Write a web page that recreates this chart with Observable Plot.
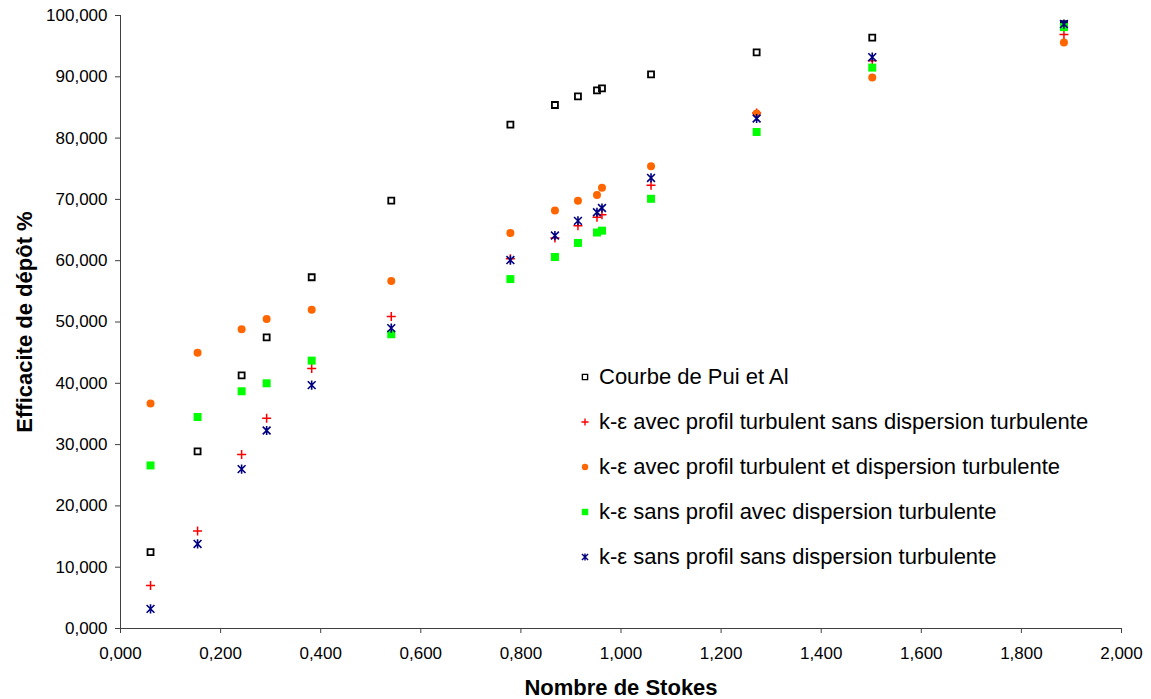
<!DOCTYPE html>
<html>
<head>
<meta charset="utf-8">
<script src="https://cdn.jsdelivr.net/npm/d3@7"></script>
<script src="https://cdn.jsdelivr.net/npm/@observablehq/plot@0.6"></script>
<style>
  body { margin: 0; background: #fff; font-family: "Liberation Sans", Arial, sans-serif; }
  #wrap { position: relative; width: 1151px; height: 699px; }
  .row { position: absolute; display: flex; align-items: center; height: 30px; font-size: 22px; color: #000; white-space: nowrap; font-family: "Liberation Sans", Arial, sans-serif; }
  .row svg { flex: none; margin-right: 7px; }
</style>
</head>
<body>
<div id="wrap"></div>
<script>
// ---- Data ----
const stokes = [0.060, 0.154, 0.242, 0.292, 0.382, 0.541, 0.779, 0.868, 0.914, 0.952, 0.962, 1.060, 1.271, 1.502, 1.885];
const puiEtAl = [12.45, 28.9, 41.3, 47.5, 57.3, 69.8, 82.2, 85.4, 86.8, 87.8, 88.1, 90.4, 94.0, 96.4, 98.6];
const keProfilSansDisp = [7.0, 15.9, 28.4, 34.3, 42.4, 50.9, 60.3, 63.7, 65.7, 67.1, 67.5, 72.3, 84.1, 92.6, 96.9];
const keProfilAvecDisp = [36.7, 45.0, 48.8, 50.5, 52.0, 56.7, 64.5, 68.2, 69.8, 70.7, 71.9, 75.4, 84.0, 89.9, 95.6];
const keSansProfilAvecDisp = [26.6, 34.5, 38.7, 40.0, 43.7, 48.0, 57.0, 60.6, 62.9, 64.6, 64.9, 70.1, 81.0, 91.5, 98.1];
const keSansProfilSansDisp = [3.2, 13.8, 26.0, 32.3, 39.7, 49.0, 60.1, 64.1, 66.5, 67.9, 68.6, 73.5, 83.2, 93.2, 98.6];

const seriesNames = [
  "Courbe de Pui et Al",
  "k-ε avec profil turbulent sans dispersion turbulente",
  "k-ε avec profil turbulent et dispersion turbulente",
  "k-ε sans profil avec dispersion turbulente",
  "k-ε sans profil sans dispersion turbulente"
];
const xTicks = [0, 0.2, 0.4, 0.6, 0.8, 1.0, 1.2, 1.4, 1.6, 1.8, 2.0];
const yTicks = [0, 10, 20, 30, 40, 50, 60, 70, 80, 90, 100];
const xTitle = "Nombre de Stokes";
const yTitle = "Efficacite de dépôt %";

// ---- Symbols ----
const rad = size => Math.sqrt(size / Math.PI);
const squareSym = { draw(ctx, size) { const r = rad(size); ctx.moveTo(-r, -r); ctx.lineTo(r, -r); ctx.lineTo(r, r); ctx.lineTo(-r, r); ctx.closePath(); } };
const plusSym = { draw(ctx, size) { const r = rad(size); ctx.moveTo(-r, 0); ctx.lineTo(r, 0); ctx.moveTo(0, -r); ctx.lineTo(0, r); } };
const circleSym = { draw(ctx, size) { const r = rad(size); ctx.moveTo(r, 0); ctx.arc(0, 0, r, 0, 2 * Math.PI); } };
const asteriskSym = { draw(ctx, size) { const r = rad(size); const d = r * 0.85; ctx.moveTo(0, -r); ctx.lineTo(0, r); ctx.moveTo(-d, -d); ctx.lineTo(d, d); ctx.moveTo(-d, d); ctx.lineTo(d, -d); } };

const styles = [
  { values: puiEtAl, symbol: squareSym, r: 3, fill: "none", stroke: "#000000", strokeWidth: 1.8, lr: 2.6 },
  { values: keProfilSansDisp, symbol: plusSym, r: 4.5, fill: "none", stroke: "#ff0000", strokeWidth: 1.5, lr: 3.6 },
  { values: keProfilAvecDisp, symbol: circleSym, r: 4, fill: "#ff6600", stroke: "none", strokeWidth: 0, lr: 3.2 },
  { values: keSansProfilAvecDisp, symbol: squareSym, r: 4, fill: "#00ff00", stroke: "none", strokeWidth: 0, lr: 3.2 },
  { values: keSansProfilSansDisp, symbol: asteriskSym, r: 4.6, fill: "none", stroke: "#000080", strokeWidth: 1.6, lr: 3.6 }
];

const fmt = d => d.toFixed(3).replace(".", ",");

const dotMarks = styles.map(s =>
  Plot.dot(stokes.map((x, i) => ({ x, y: s.values[i] })), {
    x: "x", y: "y", symbol: s.symbol, r: s.r,
    fill: s.fill, stroke: s.stroke, strokeWidth: s.strokeWidth
  })
);

const chart = Plot.plot({
  width: 1151,
  height: 699,
  marginLeft: 120,
  marginRight: 30,
  marginTop: 15,
  marginBottom: 71,
  style: { fontFamily: '"Liberation Sans", Arial, sans-serif', fontSize: "17px", color: "#000", background: "#fff" },
  x: { domain: [0, 2], label: null },
  y: { domain: [0, 100], label: null },
  marks: [
    Plot.axisX({ ticks: xTicks, tickFormat: fmt, tickSize: 5, tickPadding: 13, label: null, stroke: "#404040", fill: "#000" }),
    Plot.axisY({ ticks: yTicks, tickFormat: fmt, tickSize: 5, tickPadding: 8, label: null, stroke: "#404040", fill: "#000" }),
    Plot.ruleX([0], { stroke: "#404040" }),
    Plot.ruleY([0], { stroke: "#404040" }),
    Plot.text([xTitle], { frameAnchor: "bottom", textAnchor: "middle", dy: 66, lineAnchor: "bottom", fontSize: 22, fontWeight: "bold", fill: "#000" }),
    Plot.text([yTitle], { frameAnchor: "left", textAnchor: "middle", dx: -89, rotate: -90, lineAnchor: "bottom", fontSize: 22, fontWeight: "bold", fill: "#000" }),
    ...dotMarks
  ]
});

const wrap = document.getElementById("wrap");
wrap.appendChild(chart);

// ---- Legend (inside plot area, as HTML overlay) ----
styles.forEach((s, i) => {
  const row = document.createElement("div");
  row.className = "row";
  row.style.left = "578px";
  row.style.top = (377 + 45 * i - 15) + "px";
  const p = d3.path();
  s.symbol.draw(p, Math.PI * s.lr * s.lr);
  const svg = d3.create("svg").attr("width", 14).attr("height", 14);
  svg.append("path").attr("transform", "translate(7,7)").attr("d", p.toString())
    .attr("fill", s.fill).attr("stroke", s.stroke).attr("stroke-width", s.strokeWidth ? Math.min(s.strokeWidth, 1.4) : 0);
  row.appendChild(svg.node());
  const span = document.createElement("span");
  span.textContent = seriesNames[i];
  row.appendChild(span);
  wrap.appendChild(row);
});
</script>
</body>
</html>
